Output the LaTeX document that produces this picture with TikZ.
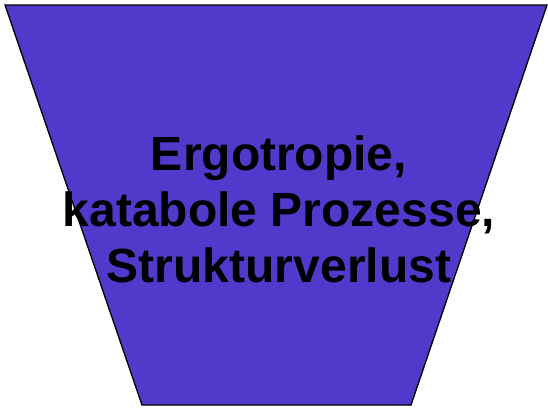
\documentclass[tikz,border=0pt]{standalone}
\usepackage{fontspec}
\setmainfont{Liberation Sans}
\definecolor{funnel}{RGB}{83,56,204}
\begin{document}
\begin{tikzpicture}[x=1pt,y=-1pt,
  shapeline/.style={draw=black,line width=1.3pt,fill=funnel,line join=miter},
  label/.style={font=\fontsize{48}{56}\selectfont\bfseries,align=center,text=black,inner sep=0pt}]
\useasboundingbox (0,0) rectangle (548,408);
\draw[shapeline] (5,5) coordinate (tl) -- (547,5) coordinate (tr) -- (411,405) coordinate (br) -- (142,405) coordinate (bl) -- cycle;
\node[label] (t) at (279,209) {Ergotropie,\\katabole Prozesse,\\Strukturverlust};
\end{tikzpicture}
\end{document}
